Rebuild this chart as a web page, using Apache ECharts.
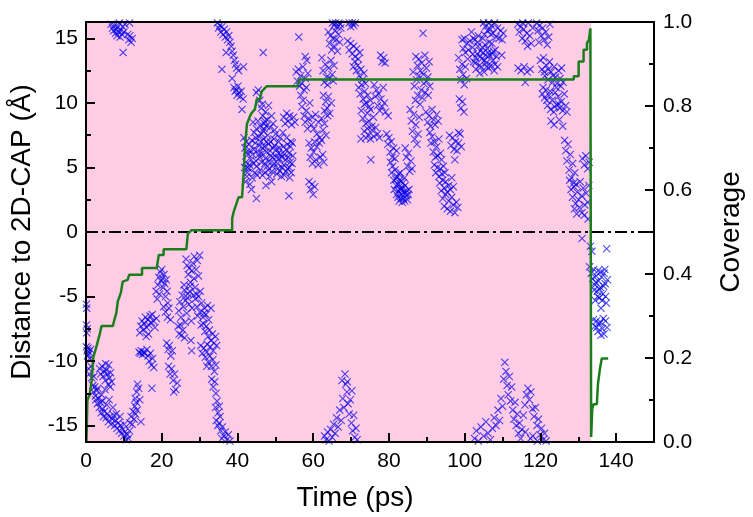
<!DOCTYPE html>
<html><head><meta charset="utf-8">
<script src="https://cdn.jsdelivr.net/npm/echarts@6/dist/echarts.min.js"></script>
<style>html,body{margin:0;padding:0;background:#fff}#c{width:753px;height:517px}</style>
</head><body><div id="c"></div>
<script>
const xMajor = [0,20,40,60,80,100,120,140];
const xMinor = [10,30,50,70,90,110,130];
const yMajor = [-15,-10,-5,0,5,10,15];
const yMinor = [-12.5,-7.5,-2.5,2.5,7.5,12.5];
const pinkEnd = 133.4;

const distA = [[0.1,-5.6],[0.2,-5.9],[0.1,-7.2],[0.3,-7.5],[0.2,-7.8],[0.1,-8.9],[0.3,-9.2],[0.5,-9.0],[0.6,-9.5],[0.8,-9.3],[1.0,-9.8],[0.4,-9.6],[1.2,-9.1],[0.7,-10.6],[0.9,-11.0],[1.3,-10.4],[1.5,-11.3],
[1.8,-11.9],[2.0,-12.4],[2.3,-12.0],[2.5,-12.7],[2.8,-12.3],[2.6,-13.0],[3.0,-13.3],[3.3,-12.9],[3.5,-13.6],[3.8,-13.2],[4.0,-14.0],[4.3,-13.7],[4.6,-14.3],[4.4,-13.1],
[3.6,-10.6],[3.9,-11.0],[4.2,-10.4],[4.5,-11.2],[4.8,-10.8],[5.1,-11.5],[5.4,-10.7],[5.7,-11.0],[6.0,-10.3],[6.2,-11.3],[6.5,-10.9],[6.8,-11.6],[5.9,-11.8],[5.2,-10.2],[6.4,-12.0],
[4.9,-13.9],[5.3,-14.4],[5.6,-14.1],[5.9,-14.7],[6.3,-14.3],[6.6,-14.9],[7.0,-14.5],[7.3,-14.2],[7.6,-15.0],[7.9,-14.6],[8.2,-15.2],[8.5,-14.8],[8.8,-15.4],[9.1,-15.0],[9.4,-15.6],[9.7,-15.3],[10.0,-15.8],[10.3,-15.5],[10.6,-16.1],[10.9,-15.7],[11.2,-16.0],[11.5,-15.4],
[11.6,-14.8],[11.9,-14.3],[12.2,-14.9],[12.4,-13.9],[12.7,-14.5],[12.9,-13.5],[13.1,-14.1],[13.3,-13.2],[13.5,-13.8],[13.0,-12.9],[13.4,-12.4],[13.6,-11.8],[13.9,-12.1],[14.2,-13.0],[14.5,-14.7],
[6.6,16.1],[7.0,15.8],[7.3,15.6],[7.5,16.0],[7.8,15.4],[8.0,15.7],[8.2,15.2],[8.4,15.9],[8.6,15.5],[8.8,16.2],[9.0,15.1],[9.2,15.6],[9.5,15.3],[9.7,15.9],[10.0,15.5],[10.3,16.1],[9.8,13.9],[11.0,15.3],[11.3,14.9],[11.6,15.2],[11.9,14.7],[12.2,15.0],[11.5,16.2],
[14.0,-9.3],[14.3,-9.4],[14.6,-9.2],[14.9,-9.5],[15.2,-9.3],[15.5,-9.4],
[14.2,-7.8],[14.5,-7.3],[14.8,-6.9],[15.1,-7.6],[15.4,-7.1],[15.7,-6.6],[16.0,-7.4],[16.3,-6.8],[16.6,-7.2],[16.9,-6.5],[17.2,-7.0],[17.5,-6.4],[17.8,-6.9],[15.9,-8.1],[16.5,-7.9],[18.2,-7.4],[18.6,-6.7],
[16.1,-9.1],[16.4,-9.6],[16.7,-10.0],[17.0,-9.4],[17.3,-10.3],[17.6,-9.8],[17.9,-10.5],[17.4,-12.1],
[18.5,-4.6],[18.8,-5.2],[19.0,-4.1],[19.2,-3.5],[19.4,-4.8],[19.6,-3.1],[19.8,-3.8]];

const distB = [[20.0,-2.9],[20.2,-3.6],[20.4,-4.3],[20.6,-3.3],[20.8,-4.0],[21.0,-5.0],[21.2,-3.7],[21.4,-4.6],[21.6,-5.5],[20.5,-5.8],[21.0,-6.2],[21.5,-6.6],[21.9,-5.9],[22.3,-6.8],
[21.3,-8.6],[21.7,-9.1],[22.0,-8.8],[22.4,-9.6],[22.8,-9.2],
[21.8,-10.4],[22.2,-11.0],[22.6,-10.6],[23.0,-11.5],[23.4,-11.0],[23.7,-12.2],[24.1,-11.7],[23.2,-12.4],
[24.3,-7.3],[24.6,-7.9],[24.9,-7.2],[25.2,-8.0],[25.6,-7.6],[26.0,-8.2],
[24.5,-6.1],[24.8,-5.4],[25.1,-6.6],[25.4,-4.9],[25.7,-5.8],[26.0,-4.5],[26.3,-5.3],[26.6,-6.3],[26.9,-4.8],[27.2,-5.6],[27.5,-4.2],[27.8,-6.9],[25.9,-4.1],[26.2,-7.0],
[27.7,-8.4],[27.9,-9.2],
[26.4,-2.1],[26.7,-2.6],[27.0,-3.3],[27.3,-2.8],[27.6,-3.9],[27.9,-3.0],[28.2,-2.4],[28.5,-3.6],[28.8,-4.3],[29.1,-2.9],[29.4,-2.2],[29.7,-3.4],[30.0,-1.8],[30.2,-4.6],[29.2,-4.8],[28.6,-1.9],
[28.9,-5.2],[29.3,-5.8],[29.7,-5.0],[30.1,-6.2],[30.5,-5.5],[30.9,-6.6],[31.3,-5.9],[31.7,-6.4],[32.1,-5.7],[32.4,-6.8],[33.0,-5.9],
[31.0,-7.1],[31.4,-7.7],[31.8,-7.3],[32.2,-8.1],[32.6,-7.6],[33.0,-8.4],[33.4,-7.9],[33.8,-8.6],[34.2,-8.1],[34.5,-8.8],
[30.3,-8.8],[30.7,-9.4],[31.1,-9.0],[31.5,-9.7],[31.9,-9.3],[32.3,-10.1],[32.7,-9.6],[33.1,-10.4],[33.5,-9.9],[33.9,-10.8],[34.3,-10.3],[31.9,-10.4],
[33.2,-11.4],[33.6,-12.0],[34.0,-11.6],[34.3,-12.5],[34.6,-13.1],[34.2,-13.6],[34.9,-14.0],[35.2,-13.5],[35.4,-14.3],
[34.4,-14.6],[34.8,-15.0],[35.2,-14.8],[35.6,-15.4],[36.0,-15.1],[36.4,-15.8],[36.8,-15.5],[37.2,-16.1],[37.6,-15.7],[38.0,-16.2],[35.9,-16.0],
[34.7,16.2],[35.0,15.8],[35.3,16.0],[35.6,15.5],[35.9,15.9],[36.2,15.3],[36.5,15.7],[36.8,15.1],[37.1,15.5],[37.4,14.9],[37.7,15.2],[38.0,14.7],[38.3,14.4],[38.6,14.0],[38.9,13.7],[35.9,12.6],
[37.0,13.9],[39.2,13.3],[39.5,13.0],[39.8,12.7],[38.6,11.9],[39.1,11.2],[39.4,10.9],[39.7,11.0],[39.9,10.6]];

const distC = [[40.1,11.3],[40.4,10.8],[40.7,10.5],[41.0,10.9],[40.3,12.5],[41.2,9.5],[41.5,10.3],[41.6,12.8],
[41.7,7.3],[42.0,6.5],[42.2,5.4],[42.5,4.3],[42.8,6.0],[43.0,4.9],[43.3,3.7],[43.6,5.6],[43.9,4.2],[42.3,7.0],[43.1,6.8],[41.9,5.0],
[42.4,6.2],[42.7,5.0],[43.4,6.3],[43.8,7.1],[44.2,5.3],[44.6,4.6],[44.9,5.5],[45.2,4.4],[42.1,3.9],[43.7,3.3],
[44.1,8.5],[44.4,7.7],[44.7,6.9],[45.0,8.0],[45.3,6.3],[45.6,7.4],[45.9,5.8],[46.2,7.0],[46.5,6.1],[46.8,7.8],[47.1,6.6],[47.4,5.7],[45.0,2.6],
[45.4,8.6],[45.8,6.7],[46.1,8.2],[46.4,5.4],[46.0,4.8],[46.6,4.4],
[46.9,7.2],[47.3,4.6],[47.6,6.2],[47.9,5.1],[48.2,6.8],[48.5,4.3],[48.8,5.9],[49.1,4.7],[49.4,6.5],[49.7,5.3],[47.5,3.6],
[48.0,7.5],[48.4,5.5],[48.7,7.0],[49.0,3.9],[49.3,5.8],[49.6,7.2],
[45.0,10.8],[45.5,11.0],[45.9,10.2],[46.3,9.6],[46.7,9.0],[47.1,8.4],[47.4,9.3],[47.8,8.7],[48.2,9.8],[48.6,8.1],[49.0,9.0],[49.4,8.4],[49.8,7.9],[46.8,13.9],
[47.0,8.0],[47.2,8.6],[47.6,8.2],[46.5,9.9],
[50.1,7.6],[50.3,6.4],[50.6,5.3],[50.9,7.0],[51.2,4.7],[51.5,6.0],[51.8,5.0],[52.1,6.6],[52.4,4.4],[52.7,5.6],[53.0,7.3],[53.3,4.9],[53.6,6.1],[53.9,5.4],[54.2,4.6],[54.5,6.9],[51.0,5.7],[52.0,7.7],
[50.4,4.5],[50.8,6.1],[51.3,7.3],[51.7,5.8],[52.2,5.2],[52.9,6.4],[53.4,5.8],[53.8,4.2],[54.0,6.6],[54.4,5.3],
[52.2,8.9],[52.6,8.4],[53.0,9.2],[53.4,8.6],[53.8,9.0],[54.3,8.3],[54.8,8.9],[55.2,8.5],[53.6,2.8],
[55.5,12.4],[55.8,11.7],[56.1,12.6],[56.4,11.3],[56.7,12.1],[57.0,11.5],[57.3,12.8],[57.6,11.0],[57.9,11.9],[58.2,11.2],[58.6,12.3],[56.2,15.1],[57.9,13.6],[58.3,13.3],
[56.7,10.6],[57.0,9.7],[57.3,10.2],[57.6,9.0],[57.9,8.5],[58.2,9.4],[58.5,8.0],[58.8,8.8],[59.1,10.0],[59.5,8.3],
[58.9,6.9],[59.2,5.8],[59.5,6.5],[59.8,5.3],[58.9,3.9],[59.3,3.3],[59.7,3.7],[60.0,2.9]];

const distD = [[60.1,6.2],[60.4,7.0],[60.7,5.6],[61.0,6.6],[61.3,5.2],[61.6,6.9],[61.9,5.8],[62.2,7.1],[62.5,6.0],[62.8,5.4],[60.4,3.5],
[59.8,8.9],[60.2,8.0],[60.6,9.1],[61.0,7.6],[61.4,8.5],[61.8,7.3],[62.2,8.8],[62.6,7.9],[63.0,8.4],[63.4,7.5],[63.8,9.0],
[62.3,13.5],[62.6,12.5],[62.9,11.6],[63.2,13.0],[63.5,12.0],[63.8,11.4],[64.1,12.7],[64.4,11.9],[64.7,13.3],[65.0,12.2],[65.3,11.7],[65.5,12.9],
[62.7,10.6],[63.0,9.4],[63.3,10.1],[63.7,9.6],[64.0,10.5],[64.4,9.2],[64.8,10.0],
[64.0,15.5],[64.3,14.6],[64.6,15.2],[64.9,14.1],[65.2,15.0],[65.5,14.4],[65.8,15.6],[66.1,14.9],[66.4,14.0],[66.7,15.3],[67.0,14.7],[67.3,15.8],
[65.1,16.2],[65.5,16.0],[65.9,16.2],[66.3,15.9],[66.8,16.2],[67.2,16.1],
[63.0,-15.8],[63.4,-16.1],[63.8,-15.5],[64.2,-16.2],[64.6,-15.3],[65.0,-15.9],[65.4,-14.9],[65.8,-15.6],[66.2,-14.4],[66.6,-15.1],[67.0,-13.8],[67.4,-14.6],[67.8,-12.9],[68.1,-13.6],[68.4,-11.0],[68.6,-11.8],[68.9,-12.4],[69.2,-13.3],[69.5,-14.1],[69.8,-13.0],[70.1,-14.8],[70.4,-15.4],[70.7,-14.2],[71.0,-15.9],[71.3,-15.2],[71.6,-16.1],[67.6,-11.5],[69.0,-11.6],[70.2,-12.3],
[69.5,16.2],[69.9,15.9],[70.3,16.2],[70.7,16.0],[71.1,16.2],
[69.1,14.8],[69.5,14.1],[69.9,14.6],[70.3,13.8],[70.7,14.4],[71.1,13.6],[71.5,14.2],[71.9,13.4],[72.3,13.9],
[70.6,12.8],[71.0,13.2],[71.4,12.5],[71.8,12.9],[72.2,12.1],[72.6,12.6],[73.0,11.8],[73.4,12.3],[73.8,11.5],
[72.0,11.2],[72.4,10.7],[72.8,11.4],[73.2,10.3],[73.6,10.9],[74.0,10.0],[74.4,10.6],[74.8,9.7],[75.1,10.2],
[72.7,9.4],[73.1,8.8],[73.5,9.9],[73.9,8.4],[74.3,9.2],[74.7,8.6],[75.1,9.5],[75.5,8.2],[75.9,8.9],
[73.5,7.8],[73.9,7.3],[74.3,8.0],[74.7,7.5],[75.1,7.2],[75.5,7.9],[76.0,7.4],[76.5,8.1],[77.0,7.6],[77.5,7.3],[72.6,7.2],[75.2,5.6],
[76.1,11.4],[76.4,10.5],[76.7,11.0],[77.0,9.8],[77.3,10.7],[77.6,9.4],[77.9,10.3],[78.2,9.7],[78.5,11.2],[78.8,10.0],[79.1,9.3],
[77.8,13.7],[78.2,13.2],[78.6,13.5],[79.0,13.1],[79.8,9.0]];

const distE = [[79.4,7.6],[79.7,6.8],[80.0,7.3],[80.3,6.2],[80.6,7.0],[80.9,5.8],[81.2,6.5],[81.6,5.7],[82.0,6.3],
[80.4,5.4],[80.7,4.6],[81.0,5.1],[81.3,4.0],[81.6,4.8],[81.9,3.6],[82.2,4.3],[82.5,3.2],[82.8,4.0],[83.1,3.4],[83.4,2.9],[83.7,3.8],[84.0,3.1],[84.3,3.6],[84.6,2.8],[82.0,2.9],[82.7,2.4],[83.5,2.3],[84.9,2.5],[85.3,3.3],[83.0,4.6],[84.1,4.2],
[82.3,3.7],[82.9,3.0],[83.3,3.9],[83.8,2.6],[84.4,3.0],[83.2,2.6],[82.6,4.5],
[84.3,6.5],[84.6,5.8],[84.9,5.1],[85.2,6.1],[85.5,4.7],[85.8,5.5],[86.1,4.9],
[85.6,9.5],[85.9,8.6],[86.2,7.8],[86.5,9.1],[86.8,7.2],[87.1,8.3],[87.4,6.8],[87.7,7.6],[88.0,8.9],
[86.4,12.4],[86.7,11.3],[87.0,10.2],[87.3,11.8],[87.6,10.6],[87.9,12.1],[88.2,9.9],[88.5,11.0],[88.8,10.4],
[87.1,13.6],[87.5,12.9],[87.9,13.4],[88.3,12.5],[88.7,13.1],[89.1,12.2],[89.5,13.7],[89.9,12.7],[90.3,12.0],[90.6,13.2],
[89.0,15.4],[89.2,11.5],[89.6,10.8],[90.0,11.7],[90.4,10.6],[90.8,11.3],
[89.8,9.3],[90.2,8.5],[90.6,9.0],[91.0,8.2],[91.4,9.5],[91.8,8.7],[92.2,8.3],[92.6,9.1],[93.0,8.6],
[90.8,7.7],[91.1,6.9],[91.4,7.4],[91.7,6.2],[92.0,7.0],[92.3,5.8],[92.6,6.6],[92.9,5.9],[93.2,7.2],[93.6,6.1],[93.9,5.6],
[92.0,5.2],[92.4,4.6],[92.8,5.0],[93.2,4.3],[93.6,4.9],[94.0,4.5],[94.4,5.1],[94.8,4.6],
[93.4,3.8],[93.8,3.2],[94.2,4.0],[94.6,3.4],[95.0,3.9],[95.4,3.1],[95.8,3.6],[96.2,3.3],[96.6,4.2],[97.0,3.5],
[94.2,2.6],[94.6,2.0],[95.0,2.9],[95.4,1.8],[95.8,2.4],[96.2,1.6],[96.6,2.7],[97.0,2.1],[97.4,1.5],[97.8,2.3],[98.2,1.9],
[96.0,7.5],[96.4,6.7],[96.8,7.3],[97.2,6.4],[97.6,7.0],[98.0,6.3],[98.4,6.9],[98.8,7.6],[99.1,6.6],[97.4,5.6],
[98.4,13.5],[98.7,12.6],[99.0,11.8],[99.3,13.0],[99.6,12.2],[99.9,11.4],[100.2,12.8],[100.5,11.9],[100.8,13.4],
[98.6,10.3],[99.0,9.6],[99.4,10.1],[99.8,9.3],[98.4,7.7],
[99.3,14.9],[99.6,14.2],[99.9,15.0],[100.2,13.9],[100.6,14.6],[101.0,14.1],[101.4,14.8]];

const distF = [[101.8,15.5],[102.1,14.3],[102.4,13.2],[102.7,14.9],[103.0,12.6],[103.3,13.8],[103.6,15.2],[103.9,12.9],[104.2,14.0],[104.5,13.4],[104.8,15.0],[105.1,12.4],[105.4,14.5],[105.7,13.1],[106.0,14.2],[106.3,12.7],[106.6,13.7],[106.9,15.3],[107.2,14.6],[107.5,13.3],[107.8,12.5],[108.1,14.1],[108.4,13.6],[108.7,12.8],[109.8,13.7],[104.0,12.3],[106.0,15.6],
[102.2,13.8],[102.9,13.5],[103.5,14.4],[104.4,12.8],[104.9,13.9],[105.3,13.3],[105.9,13.6],[106.5,14.7],[107.0,12.9],[107.6,14.0],
[105.0,16.2],[105.5,15.9],[106.3,16.2],[106.8,15.7],
[107.1,16.0],[107.5,15.4],[107.9,16.2],[108.3,15.1],[108.7,15.8],[109.1,15.0],[109.5,15.6],[109.9,14.9],[110.2,15.4],
[102.6,-16.0],[103.1,-15.4],[103.6,-16.2],[104.3,-15.1],[105.0,-15.8],[105.6,-14.7],[106.2,-15.6],[106.8,-16.1],[107.3,-15.2],[107.8,-14.4],[108.3,-15.0],[108.8,-13.8],[109.2,-14.6],[109.6,-12.9],[110.0,-13.5],[110.3,-11.4],[110.6,-10.1],[110.9,-10.8],[111.2,-11.9],[111.5,-12.6],[111.8,-11.2],[112.1,-13.1],[112.4,-12.0],[112.7,-13.8],[113.0,-14.5],[113.3,-13.2],[113.6,-15.0],[113.9,-14.1],[114.2,-15.6],[114.5,-14.8],[114.8,-16.0],[115.1,-15.3],
[115.5,-14.2],[115.9,-13.4],[116.3,-12.6],[116.7,-12.1],[117.1,-13.0],[117.5,-12.4],[117.9,-13.7],[118.3,-14.3],[118.7,-13.6],[119.1,-15.0],[119.5,-14.5],[119.9,-15.7],[120.3,-15.2],[120.7,-16.1],[121.1,-15.6],[121.5,-16.2],[116.0,-15.5],[117.4,-16.0],[118.0,-15.8],[119.2,-16.2],
[114.0,16.1],[114.4,15.5],[114.8,15.9],[115.2,15.0],[115.6,15.7],[116.0,14.8],[116.4,15.4],[116.8,16.2],[117.2,15.2],[117.6,14.6],[118.0,15.8],[115.3,16.2],[116.6,14.4],
[114.1,12.7],[114.9,12.5],[115.7,12.8],[116.5,12.4],[117.3,12.6],[116.0,11.6],
[119.0,16.2],[119.4,15.6],[119.8,16.0],[120.2,15.2],[120.6,15.8],[121.0,14.9],[121.4,15.5],[121.8,14.5],[122.2,15.1],[122.5,16.1],[119.6,14.7]];

const distG = [[120.0,13.3],[120.4,12.6],[120.8,13.5],[121.2,12.1],[121.6,12.9],[122.0,11.8],[122.4,13.2],[122.8,12.4],[123.2,11.6],[123.6,12.8],[124.0,12.0],[124.4,11.5],[124.8,12.5],[125.2,11.9],[125.6,12.7],[126.0,11.6],
[120.7,11.2],[121.1,10.4],[121.5,11.0],[121.9,9.8],[122.3,10.6],[122.7,9.5],[123.1,10.2],[123.5,9.3],[123.9,10.8],[124.3,9.9],[124.7,10.5],[125.1,9.6],[125.5,10.1],[125.9,9.4],[126.3,10.7],[126.7,9.8],[127.0,9.3],
[122.8,8.6],[123.6,8.3],[125.0,8.7],[125.9,8.2],
[126.4,7.1],[126.7,6.3],[127.0,5.5],[127.3,6.8],[127.6,4.8],[127.9,6.0],[128.2,4.2],[128.5,5.3],[128.8,3.8],[129.1,4.6],[129.4,3.7],
[127.7,4.0],[128.1,3.3],[128.5,2.7],[128.9,3.5],[129.3,2.2],[129.7,3.1],[130.1,2.5],[130.5,3.9],[130.9,2.8],[131.3,3.4],[131.7,2.1],[132.1,3.0],[132.5,2.3],[132.8,3.6],
[129.0,1.8],[129.6,1.4],[130.3,1.9],[131.0,1.5],[131.6,1.3],
[131.1,5.7],[131.6,5.2],[132.0,5.9],[132.5,4.9],[132.9,5.4],[132.6,1.0],[131.0,-0.5],
[133.2,-1.1],[133.6,-1.5],[137.5,-1.3],
[133.0,-2.7],[133.4,-3.2],[133.8,-3.6],[134.1,-2.9],[134.4,-4.1],[134.7,-3.4],[135.0,-4.6],[135.3,-3.8],[135.6,-5.1],[135.9,-4.3],[136.2,-3.5],[136.5,-4.8],[136.8,-3.2],[137.1,-4.0],[137.4,-5.5],[137.7,-3.7],[136.0,-5.9],[134.2,-4.5],[134.5,-5.3],[135.2,-3.0],[137.0,-2.9],
[134.0,-6.8],[134.4,-7.3],[134.8,-6.9],[135.2,-7.7],[135.6,-7.1],[136.0,-8.0],[136.4,-7.5],[136.8,-7.9],[137.2,-6.9],[137.6,-7.4]];

const distH = [[44.3,6.4],[44.8,7.3],[45.1,5.1],[45.7,6.0],[46.3,7.6],[46.7,6.5],[47.2,5.3],[47.7,7.0],[48.1,4.8],[48.6,6.3],[49.2,5.1],[49.8,6.7],[50.2,5.8],[50.7,4.9],[51.1,6.5],[51.6,4.3],[52.3,6.0],[52.8,4.7],[53.2,6.8],[53.7,5.0],[54.1,7.0],[54.6,5.9],[43.2,5.2],[42.6,4.6],[44.0,6.0],
[81.4,3.3],[81.8,4.1],[82.4,2.7],[83.0,3.3],[83.6,3.4],[84.2,2.4],[84.8,3.2],[85.1,2.9],
[102.3,15.0],[102.8,13.1],[103.4,14.7],[104.1,13.6],[104.7,14.3],[105.2,15.3],[105.8,12.8],[106.2,13.9],[107.3,13.8],[108.0,13.0],
[120.5,10.7],[121.0,12.4],[121.7,10.2],[122.1,12.6],[122.6,10.9],[123.3,12.1],[123.8,9.7],[124.2,11.2],[124.9,9.9],[125.4,11.3],
[2.1,-11.2],[3.1,-12.1],[4.1,-12.6],[5.0,-12.2],[5.5,-13.4],[6.1,-13.0],[7.1,-13.6],[8.0,-14.1],[9.0,-14.3],[10.1,-14.9],
[26.8,-5.1],[27.4,-4.6],[28.0,-5.9],[28.4,-4.9],[29.5,-6.5],[30.4,-7.2],[31.2,-6.3],[32.0,-8.7],[32.8,-8.9],[33.6,-9.2],
[134.6,-3.9],[135.1,-5.0],[135.5,-4.4],[135.9,-3.1],[136.3,-5.3],[136.7,-4.2],[137.2,-5.0],[134.9,-7.4],[135.9,-7.0],[136.6,-6.7]];

const coverage = [[0.1,0.0],[0.2,0.03],[0.35,0.099],[1.0,0.114],[1.5,0.146],[1.9,0.2],[2.8,0.229],[3.6,0.256],[4.1,0.276],[7.1,0.276],[7.5,0.291],[8.0,0.307],[8.4,0.335],[9.2,0.355],[9.7,0.382],[11.0,0.386],[11.4,0.398],[14.8,0.398],[14.8,0.414],[18.7,0.414],[19.2,0.445],[20.5,0.445],[20.5,0.459],[26.5,0.459],[26.9,0.496],[27.8,0.504],[38.6,0.504],[38.6,0.532],[39.0,0.548],[40.3,0.583],[41.2,0.583],[41.6,0.634],[42.0,0.705],[42.5,0.757],[43.3,0.776],[43.8,0.784],[44.6,0.792],[45.1,0.816],[45.9,0.816],[46.4,0.835],[47.7,0.847],[55.9,0.847],[56.3,0.863],[128.8,0.863],[128.8,0.871],[130.1,0.871],[130.1,0.906],[131.4,0.906],[131.4,0.934],[132.3,0.934],[132.3,0.95],[132.8,0.957],[133.2,0.985],[133.4,0.985],[133.4,0.012],[133.7,0.079],[134.0,0.09],[134.9,0.09],[135.2,0.138],[135.7,0.173],[136.2,0.199],[137.9,0.199]];

const distAll = [].concat(distA, distB, distC, distD, distE, distF, distG, distH);

const FONT = 'Liberation Sans, Arial, sans-serif';
const cross = 'path://M0,1 L1,0 L5,4 L9,0 L10,1 L6,5 L10,9 L9,10 L5,6 L1,10 L0,9 L4,5 Z';
const axisLine = {show: true, onZero: false, lineStyle: {color: '#000', width: 2}};
const noLine = {show: false, onZero: false};
const tickStyle = {color: '#000', width: 2};

const chart = echarts.init(document.getElementById('c'), null, {renderer: 'canvas'});
chart.setOption({
  animation: false,
  backgroundColor: '#fff',
  grid: {left: 86, right: 88, top: 22, bottom: 72},
  xAxis: [
    {type: 'value', position: 'bottom', min: 0, max: 150, zlevel: 1,
     axisLine: axisLine, splitLine: {show: false},
     axisTick: {inside: true, length: 9, customValues: xMajor, lineStyle: tickStyle},
     axisLabel: {customValues: xMajor, fontSize: 21, color: '#000', fontFamily: FONT, margin: 9},
     name: 'Time (ps)', nameLocation: 'middle', nameGap: 42,
     nameTextStyle: {fontSize: 28, color: '#000', fontFamily: FONT, padding: [0, 30, 0, 0]}},
    {type: 'value', position: 'bottom', min: 0, max: 150, zlevel: 1,
     axisLine: noLine, splitLine: {show: false}, axisLabel: {show: false},
     axisTick: {inside: true, length: 5, customValues: xMinor, lineStyle: tickStyle}},
    {type: 'value', position: 'top', min: 0, max: 150, zlevel: 1,
     axisLine: axisLine, splitLine: {show: false}, axisLabel: {show: false}, axisTick: {show: false}}
  ],
  yAxis: [
    {type: 'value', position: 'left', min: -16.27, max: 16.27, zlevel: 1,
     axisLine: axisLine, splitLine: {show: false},
     axisTick: {inside: true, length: 9, customValues: yMajor, lineStyle: tickStyle},
     axisLabel: {customValues: yMajor, fontSize: 21, color: '#000', fontFamily: FONT, margin: 8},
     name: 'Distance to 2D-CAP (Å)', nameLocation: 'middle', nameGap: 43,
     nameTextStyle: {fontSize: 28, color: '#000', fontFamily: FONT}},
    {type: 'value', position: 'right', min: 0, max: 1, interval: 0.2, zlevel: 1,
     axisLine: axisLine, splitLine: {show: false},
     axisTick: {inside: true, length: 9, lineStyle: tickStyle},
     minorTick: {show: true, splitNumber: 2, length: 5, lineStyle: tickStyle},
     minorSplitLine: {show: false},
     axisLabel: {fontSize: 21, color: '#000', fontFamily: FONT, margin: 9, formatter: v => v.toFixed(1)},
     name: 'Coverage', nameLocation: 'middle', nameGap: 63,
     nameTextStyle: {fontSize: 28, color: '#000', fontFamily: FONT}},
    {type: 'value', position: 'left', min: -16.27, max: 16.27, zlevel: 1,
     axisLine: noLine, splitLine: {show: false}, axisLabel: {show: false},
     axisTick: {inside: true, length: 5, customValues: yMinor, lineStyle: tickStyle}}
  ],
  series: [
    {type: 'line', xAxisIndex: 0, yAxisIndex: 0, data: [], z: 0, silent: true,
     markArea: {silent: true, z: 0, itemStyle: {color: '#FFCCE6'},
       data: [[{xAxis: 0}, {xAxis: pinkEnd}]]}},
    {type: 'scatter', name: 'distance', xAxisIndex: 0, yAxisIndex: 0, data: distAll,
     symbol: cross, symbolSize: 8, z: 2,
     itemStyle: {color: 'rgba(0,0,235,0.85)'},
     markLine: {silent: true, symbol: 'none', z: 3, label: {show: false},
       lineStyle: {color: '#000', width: 2, type: [12, 4, 3, 4]},
       data: [{yAxis: 0}]}},
    {type: 'line', name: 'coverage', xAxisIndex: 0, yAxisIndex: 1, data: coverage,
     showSymbol: false, symbol: 'none', z: 4,
     lineStyle: {color: '#1a7f1a', width: 2.5}}
  ]
});
</script>
</body></html>
